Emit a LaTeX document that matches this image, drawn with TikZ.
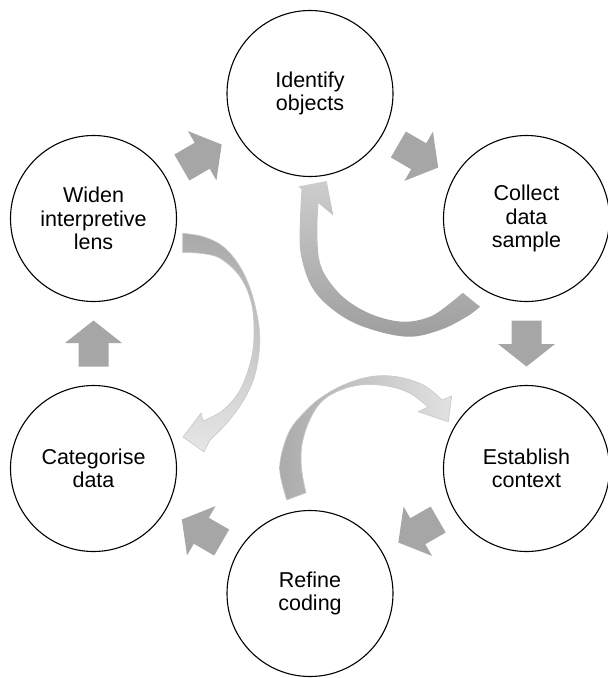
\documentclass[tikz,border=0pt]{standalone}
\usepackage{fontspec}
\setmainfont{Liberation Sans}
\usetikzlibrary{calc}
\definecolor{blockgray}{HTML}{A6A6A6}
\definecolor{aOneLight}{HTML}{CDCDCD}
\definecolor{aOneDark}{HTML}{9E9E9E}
\definecolor{aTwoDark}{HTML}{A9A9A9}
\definecolor{aTwoMid}{HTML}{C6C6C6}
\definecolor{aTwoLight}{HTML}{E6E6E6}
\definecolor{aThreeDark}{HTML}{ABABAB}
\definecolor{aThreeLight}{HTML}{E2E2E2}
\definecolor{ribbonline}{HTML}{C8C8C8}
\begin{document}
\begin{tikzpicture}[x=1pt,y=-1pt,
  stage/.style={circle, draw=black, line width=1.1pt, fill=white,
    minimum size=166pt, inner sep=0pt, align=center,
    font=\fontsize{21.5}{23.5}\selectfont},
  blockarrow/.pic={\fill[blockgray] (-23,-15) -- (0.5,-15) -- (0.5,-28.5)
    -- (23,0) -- (0.5,28.5) -- (0.5,15) -- (-23,15) -- cycle;},
  ribbon/.style={smooth, tension=0.6},
]
\useasboundingbox (0,0) rectangle (608,678);

% curved arrow: Collect -> Identify
\shade[top color=aOneLight, bottom color=aOneDark]
  plot[ribbon] coordinates {(480,306.7) (466.7,316.7) (440,330) (406.7,336.7)
    (363.3,326.7) (333.3,310) (311.7,286.7) (300.7,253.3) (300,220) (301.5,189.2)}
  -- (298.3,186.5) -- (326.7,181) -- (333.3,215.5) -- (318.5,203.2)
  -- plot[ribbon] coordinates {(318.5,203.2) (317.3,230) (319.3,260) (328.3,280)
    (346.7,300) (373.3,315) (403.3,321.7) (430,316.7) (450,303.3) (462.7,292.7)}
  -- cycle;

% curved arrow: Widen -> Categorise
\shadedraw[draw=ribbonline, line width=0.6pt, top color=aTwoDark, middle color=aTwoMid, bottom color=aTwoLight]
  plot[ribbon] coordinates {(182.7,233.3) (203.3,236.7) (223.3,246.7) (240,266.7)
    (251.7,293.3) (259,326.7) (259,353.3) (253.3,380) (241.7,403.3) (226,424) (210,440)}
  -- (204,452) -- (183,437) -- (201,413) -- (203,421)
  -- plot[ribbon] coordinates {(203,421) (223.3,410) (240,390) (250.5,362)
    (254,335) (251.5,303.3) (240,276.7) (220,258.3) (200,253.3) (182.7,252.7)}
  -- cycle;

% curved arrow: Refine -> Establish
\shadedraw[draw=ribbonline, line width=0.6pt, left color=aThreeDark, right color=aThreeLight]
  plot[ribbon] coordinates {(306,492.7) (301.7,470) (301.7,446.7) (308.3,423.3)
    (320,403.3) (336.7,391.7) (360,385) (386.7,386) (410,393.3) (428,407)}
  -- (418.3,411.7) -- (448.3,421.7) -- (451.7,396) -- (442,400)
  -- plot[ribbon] coordinates {(442,400) (423.3,385) (396.7,376.7) (370,376.7)
    (343.3,385) (320,398.3) (303.3,413.3) (290,430) (281.7,453.3) (280,473.3) (286.7,500)}
  -- cycle;

% stages
\node[stage] (idf) at (310,93.5) {Identify\\objects};
\node[stage] (col) at (526.5,218.5) {Collect\\data\\sample};
\node[stage] (est) at (526.5,468.5) {Establish\\context};
\node[stage] (ref) at (310,593.5) {Refine\\coding};
\node[stage] (cat) at (93.5,468.5) {Categorise\\data};
\node[stage] (wid) at (93.5,218.5) {Widen\\interpretive\\lens};

% block arrows between stages
\pic[rotate=30]   at ($(wid)!0.5!(idf)$) {blockarrow};
\pic[rotate=-30]  at ($(idf)!0.5!(col)$) {blockarrow};
\pic[rotate=-90]  at ($(col)!0.5!(est)$) {blockarrow};
\pic[rotate=-150] at ($(est)!0.5!(ref)$) {blockarrow};
\pic[rotate=150]  at ($(ref)!0.5!(cat)$) {blockarrow};
\pic[rotate=90]   at ($(cat)!0.5!(wid)$) {blockarrow};
\end{tikzpicture}
\end{document}
